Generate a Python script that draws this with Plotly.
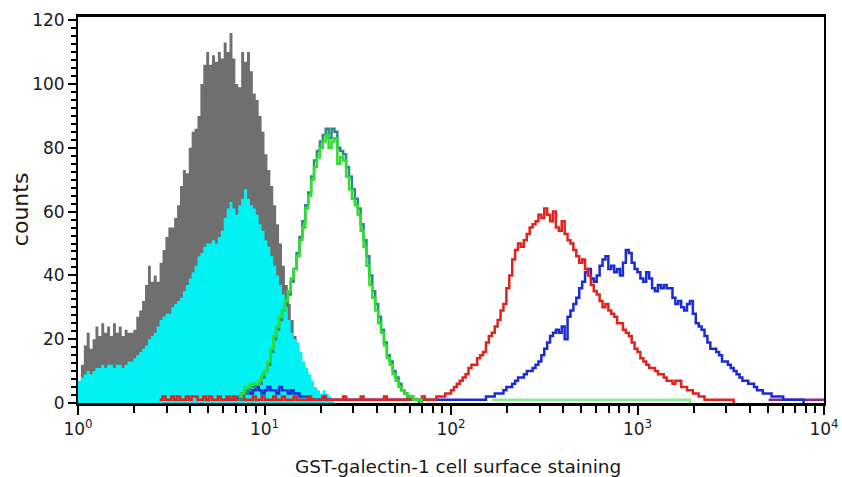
import plotly.graph_objects as go

# Histogram channels: 64 channels per decade on a 4-decade log scale (channel k -> 10**(k/64))
CHANNELS_PER_DECADE = 64

# Gray filled histogram (starts at channel 0)
gray_start = 0
gray_counts = [6, 12, 18, 22, 17, 20, 24, 21, 25, 22, 24, 21, 25, 22, 24, 21, 23, 22, 22, 23,
               27, 29, 32, 37, 43, 38, 40, 38, 44, 48, 52, 55, 55, 58, 62, 68, 73, 72, 80, 85,
               86, 90, 100, 106, 110, 106, 109, 107, 110, 108, 113, 110, 116, 108, 100, 99, 110, 107, 110, 104,
               97, 95, 90, 85, 78, 73, 68, 62, 56, 50, 43, 37, 31, 26, 21, 17, 12, 7, 3, 1, 0]

# Cyan filled histogram
cyan_start = 0
cyan_counts = [7, 8, 9, 10, 9, 10, 11, 11, 12, 11, 12, 12, 11, 12, 12, 11, 12, 13, 13, 14,
               15, 16, 17, 18, 20, 21, 22, 24, 26, 27, 28, 28, 30, 31, 32, 33, 35, 37, 39, 41,
               43, 46, 47, 49, 50, 50, 51, 50, 52, 54, 58, 61, 63, 61, 59, 62, 64, 67, 64, 62,
               61, 59, 56, 54, 51, 49, 46, 43, 40, 37, 34, 30, 26, 22, 20, 19, 16, 13, 11, 9,
               7, 5, 4, 3, 4, 3, 2, 1, 0]

# Green line histogram
green_start = 55
green_counts = [2, 3, 5, 5, 6, 6, 6, 7, 9, 10, 13, 17, 21, 24, 27, 29, 32, 35, 39, 42,
                46, 51, 55, 61, 65, 70, 74, 77, 80, 82, 84, 80, 82, 83, 75, 77, 76, 71, 67, 64,
                62, 59, 54, 49, 43, 37, 33, 29, 25, 22, 18, 14, 12, 9, 7, 5, 4, 3, 2, 2,
                1, 1, 1, 0]

# Teal line histogram
teal_start = 55
teal_counts = [1, 2, 3, 4, 5, 5, 6, 6, 8, 10, 12, 16, 20, 23, 26, 29, 31, 34, 38, 42,
               47, 52, 57, 62, 66, 71, 76, 79, 82, 84, 86, 83, 86, 85, 80, 79, 78, 74, 71, 67,
               64, 61, 56, 51, 46, 40, 35, 31, 27, 23, 19, 15, 13, 10, 8, 6, 4, 3, 2, 2,
               1, 1, 0]

# Red line histogram
red_start = 28
red_counts = [1, 2, 1, 1, 2, 1, 2, 1, 1, 2, 1, 2, 2, 1, 1, 2, 1, 2, 1, 1,
              2, 1, 1, 2, 1, 2, 1, 1, 2, 1, 1, 1, 2, 1, 1, 2, 1, 1, 1, 2,
              1, 1, 2, 1, 1, 1, 2, 1, 1, 1, 1, 2, 1, 1, 1, 1, 2, 1, 1, 1,
              1, 1, 1, 2, 1, 1, 1, 1, 1, 2, 1, 1, 1, 1, 1, 1, 1, 2, 1, 1,
              1, 1, 1, 1, 1, 2, 1, 1, 1, 1, 2, 1, 1, 1, 1, 2,
              2, 2, 3, 3, 4, 5, 6, 7, 8, 9, 11, 12, 12, 14, 15, 16, 19, 21, 22, 24,
              26, 29, 31, 36, 40, 45, 48, 50, 49, 51, 53, 55, 56, 57, 59, 58, 61, 59, 57, 60,
              55, 54, 57, 53, 51, 50, 48, 46, 44, 45, 42, 40, 37, 35, 34, 32, 30, 31, 29, 28,
              27, 25, 25, 23, 22, 21, 19, 17, 16, 14, 13, 12, 11, 11, 10, 9, 9, 8, 7, 7,
              6, 7, 7, 5, 5, 4, 4, 3, 3, 2, 2, 1, 1, 1, 1, 1, 1, 1, 1, 1, 1, 0]

# Blue line histogram
blue_start = 50
blue_counts = [1, 1, 1, 1, 1, 2, 3, 3, 4, 3, 4, 5, 4, 3, 4, 5, 4, 4, 3, 5,
               4, 4, 3, 4, 3, 3, 2, 2, 2, 1, 1, 1, 1, 1, 2, 1, 1, 1, 1, 1,
               1, 1, 1, 1, 1, 1, 1, 1, 1, 1, 1, 1, 1, 1, 1, 1, 1, 1, 1, 1,
               1, 1, 1, 1, 1, 1, 1, 1, 1, 1, 1, 1, 1, 1, 1, 1, 1, 1, 1, 1,
               1, 1, 1, 1, 1, 1, 1, 1,
               1, 1, 2, 2, 2, 3, 3, 3, 4, 5, 5, 6, 7, 8, 8, 9, 10, 10, 11, 12,
               13, 15, 17, 19, 21, 22, 23, 22, 24, 20, 27, 29, 31, 33, 36, 38, 41, 42, 39, 38,
               40, 43, 45, 46, 42, 43, 41, 42, 40, 44, 48, 47, 44, 42, 41, 39, 38, 41, 39, 36,
               35, 37, 36, 37, 36, 36, 33, 31, 32, 30, 29, 31, 32, 28, 25, 24, 23, 21, 19, 17,
               17, 16, 15, 13, 13, 12, 11, 10, 9, 8, 7, 7, 6, 6, 5, 4, 4, 3, 3, 3,
               2, 2, 2, 2, 1, 1, 1, 1, 1, 1, 1, 0]

# Low-level baseline traces
lightgreen_start = 142
lightgreen_counts = [1, 1, 1, 1, 1, 1, 1, 1, 1, 1, 1, 1, 1, 1, 1, 1, 1, 1, 1, 1,
                     1, 1, 1, 1, 1, 1, 1, 1, 1, 1, 1, 1, 1, 1, 1, 1, 1, 1, 1, 1,
                     1, 1, 1, 1, 1, 1, 1, 1, 1, 1, 1, 1, 1, 1, 1, 1, 1, 1, 1, 1,
                     1, 1, 1, 1, 1, 1, 1, 1, 0]
purple_start = 237
purple_counts = [1, 1, 1, 1, 1, 1, 1, 1, 1, 1, 1, 1, 1, 1, 1, 1, 1, 1, 1, 1, 0]

X_TICK_VALUES = [1, 10, 100, 1000, 10000]
X_TICK_LABELS = ["10<sup>0</sup>", "10<sup>1</sup>", "10<sup>2</sup>", "10<sup>3</sup>", "10<sup>4</sup>"]
Y_TICK_VALUES = [0, 20, 40, 60, 80, 100, 120]


def xs(start, counts):
    return [10 ** ((start + i) / CHANNELS_PER_DECADE) for i in range(len(counts))]


fig = go.Figure()

fig.add_trace(go.Scatter(x=xs(gray_start, gray_counts), y=gray_counts, mode="lines",
                         line=dict(width=0, shape="hv", color="#6f6f6f"),
                         fill="tozeroy", fillcolor="#6f6f6f"))
fig.add_trace(go.Scatter(x=xs(cyan_start, cyan_counts), y=cyan_counts, mode="lines",
                         line=dict(width=0, shape="hv", color="#00f2f2"),
                         fill="tozeroy", fillcolor="#00f2f2"))
fig.add_trace(go.Scatter(x=xs(lightgreen_start, lightgreen_counts), y=lightgreen_counts, mode="lines",
                         line=dict(width=2.5, shape="hv", color="#8eea8e")))
fig.add_trace(go.Scatter(x=xs(purple_start, purple_counts), y=purple_counts, mode="lines",
                         line=dict(width=2.5, shape="hv", color="#8a2a8a")))
fig.add_trace(go.Scatter(x=xs(blue_start, blue_counts), y=blue_counts, mode="lines",
                         line=dict(width=2.5, shape="hv", color="#1a2cd6")))
fig.add_trace(go.Scatter(x=xs(red_start, red_counts), y=red_counts, mode="lines",
                         line=dict(width=2.5, shape="hv", color="#e0241c")))
fig.add_trace(go.Scatter(x=xs(teal_start, teal_counts), y=teal_counts, mode="lines",
                         line=dict(width=2.5, shape="hv", color="#2a8a84")))
fig.add_trace(go.Scatter(x=xs(green_start, green_counts), y=green_counts, mode="lines",
                         line=dict(width=2.5, shape="hv", color="#2ee02e")))

minor_x = [m * 10 ** d for d in range(4) for m in range(2, 10)]

fig.update_layout(
    width=842, height=477,
    margin=dict(l=78, r=18, t=17, b=74),
    paper_bgcolor="white", plot_bgcolor="white",
    showlegend=False,
    font=dict(family="DejaVu Sans", size=17, color="#1a1a1a"),
    xaxis=dict(type="log", range=[0, 4], tickmode="array", tickvals=X_TICK_VALUES,
               ticktext=X_TICK_LABELS, ticks="outside", ticklen=9, tickwidth=2, tickcolor="black",
               showline=True, linewidth=2.5, linecolor="black", mirror=True,
               showgrid=False, zeroline=False, automargin=False,
               minor=dict(tickmode="array", tickvals=minor_x, ticks="outside", ticklen=7,
                          tickwidth=1.5, tickcolor="black", showgrid=False)),
    yaxis=dict(range=[0, 121], tickmode="array", tickvals=Y_TICK_VALUES,
               ticks="outside", ticklen=8, tickwidth=2, tickcolor="black",
               showline=True, linewidth=2, linecolor="black", mirror=True,
               showgrid=False, zeroline=False, automargin=False,
               minor=dict(dtick=2.5, tick0=0, ticks="outside", ticklen=5, tickwidth=2,
                          tickcolor="black", showgrid=False)),
    annotations=[
        dict(text="GST-galectin-1 cell surface staining", xref="paper", yref="paper",
             x=0.509, y=-0.165, xanchor="center", yanchor="middle", showarrow=False,
             font=dict(size=18.5, color="#1a1a1a")),
        dict(text="counts", xref="paper", yref="paper", x=-0.076, y=0.503,
             xanchor="center", yanchor="middle", textangle=-90, showarrow=False,
             font=dict(size=22, color="#1a1a1a")),
    ],
)

fig.write_html("out.html", config={"displayModeBar": False},
               post_script="document.body.style.margin='0';")
